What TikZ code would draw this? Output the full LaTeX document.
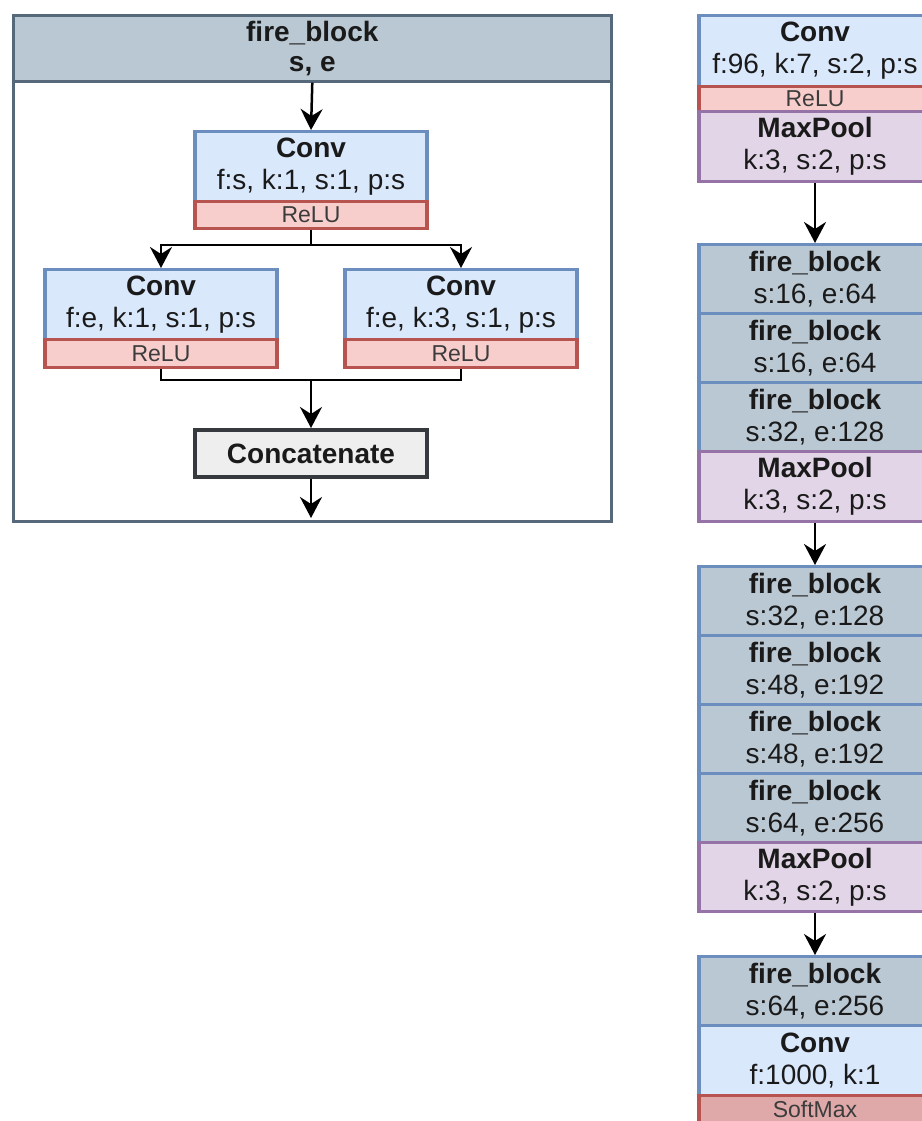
\documentclass[tikz,border=0pt]{standalone}
\usepackage{fontspec}
\setmainfont{Liberation Sans}
\usetikzlibrary{arrows.meta}
\definecolor{convfill}{HTML}{DAE8FC}
\definecolor{convline}{HTML}{6C8EBF}
\definecolor{actfill}{HTML}{F8CECC}
\definecolor{actline}{HTML}{B85450}
\definecolor{poolfill}{HTML}{E1D5E7}
\definecolor{poolline}{HTML}{9673A6}
\definecolor{firefill}{HTML}{BAC8D3}
\definecolor{panelline}{HTML}{56697A}
\definecolor{catfill}{HTML}{EEEEEE}
\definecolor{catline}{HTML}{36393D}
\definecolor{softfill}{HTML}{DFA9A9}
\definecolor{ink}{HTML}{1A1A1A}

\tikzset{
  layer/.style={rectangle, draw, line width=3.2pt, minimum width=232pt, inner sep=0pt,
    align=center, text=ink, font=\fontsize{28}{32}\selectfont, anchor=north},
  convbox/.style={layer, fill=convfill, draw=convline},
  actbox/.style={layer, fill=actfill, draw=actline, font=\fontsize{23}{26}\selectfont, text=ink!85},
  softbox/.style={actbox, fill=softfill},
  poolbox/.style={layer, fill=poolfill, draw=poolline},
  firebox/.style={layer, fill=firefill, draw=convline},
  catbox/.style={layer, fill=catfill, draw=catline, line width=4pt,
    font=\fontsize{28}{32}\selectfont\bfseries},
  flow/.style={line width=2.5pt, draw=black, -{Stealth[length=21pt,width=22pt,inset=7pt]}},
  link/.style={line width=2.5pt, draw=black},
}

\begin{document}
\begin{tikzpicture}[x=1pt, y=-1pt]
\useasboundingbox[fill=white] (0,0) rectangle (921,1121);

% ---------- fire_block detail ----------
\node[draw=panelline, line width=2.6pt, minimum width=598pt, minimum height=506pt,
  anchor=north west, inner sep=0pt] (panel) at (12,14) {};
\node[layer, fill=firefill, draw=panelline, line width=2.6pt, minimum width=598pt,
  minimum height=66pt, anchor=north west] (head) at (12,14)
  {\textbf{fire\_block}\\[-2pt]\textbf{s, e}};

\node[convbox, minimum height=70pt] (c1) at (311,130) {\textbf{Conv}\\f:s, k:1, s:1, p:s};
\node[actbox, minimum height=27pt] (r1) at (311,200) {ReLU};

\node[convbox, minimum height=70pt] (c2) at (161,268) {\textbf{Conv}\\f:e, k:1, s:1, p:s};
\node[actbox, minimum height=28pt] (r2) at (161,338) {ReLU};

\node[convbox, minimum height=70pt] (c3) at (461,268) {\textbf{Conv}\\f:e, k:3, s:1, p:s};
\node[actbox, minimum height=28pt] (r3) at (461,338) {ReLU};

\node[catbox, minimum height=47pt] (cat) at (311,428) {Concatenate};

\draw[flow] (head.south) -- (c1.north);
\coordinate (split) at (311,245);
\draw[link] (r1.south) -- (split);
\draw[flow] (split) -| (c2.north);
\draw[flow] (split) -| (c3.north);
\coordinate (merge) at (311,380);
\draw[link] (r2.south) |- (merge);
\draw[link] (r3.south) |- (merge);
\draw[flow] (merge) -- (cat.north);
\coordinate (out) at (311,518);
\draw[flow] (cat.south) -- (out);

% ---------- full network column ----------
\node[convbox, minimum height=71pt] (k1) at (815,14) {\textbf{Conv}\\f:96, k:7, s:2, p:s};
\node[actbox, minimum height=25pt] (k1a) at (815,85) {ReLU};
\node[poolbox, minimum height=70pt] (p1) at (815,110) {\textbf{MaxPool}\\k:3, s:2, p:s};

\node[firebox, minimum height=69pt] (f1) at (815,243) {\textbf{fire\_block}\\s:16, e:64};
\node[firebox, minimum height=69pt] (f2) at (815,312) {\textbf{fire\_block}\\s:16, e:64};
\node[firebox, minimum height=69pt] (f3) at (815,381) {\textbf{fire\_block}\\s:32, e:128};
\node[poolbox, minimum height=70pt] (p2) at (815,450) {\textbf{MaxPool}\\k:3, s:2, p:s};

\node[firebox, minimum height=69pt] (f4) at (815,565) {\textbf{fire\_block}\\s:32, e:128};
\node[firebox, minimum height=69pt] (f5) at (815,634) {\textbf{fire\_block}\\s:48, e:192};
\node[firebox, minimum height=69pt] (f6) at (815,703) {\textbf{fire\_block}\\s:48, e:192};
\node[firebox, minimum height=69pt] (f7) at (815,772) {\textbf{fire\_block}\\s:64, e:256};
\node[poolbox, minimum height=69pt] (p3) at (815,841) {\textbf{MaxPool}\\k:3, s:2, p:s};

\node[firebox, minimum height=69pt] (f8) at (815,955) {\textbf{fire\_block}\\s:64, e:256};
\node[convbox, minimum height=70pt] (k2) at (815,1024) {\textbf{Conv}\\f:1000, k:1};
\node[softbox, minimum height=28pt] (sm) at (815,1094) {SoftMax};

\draw[flow] (p1.south) -- (f1.north);
\draw[flow] (p2.south) -- (f4.north);
\draw[flow] (p3.south) -- (f8.north);
\end{tikzpicture}
\end{document}
